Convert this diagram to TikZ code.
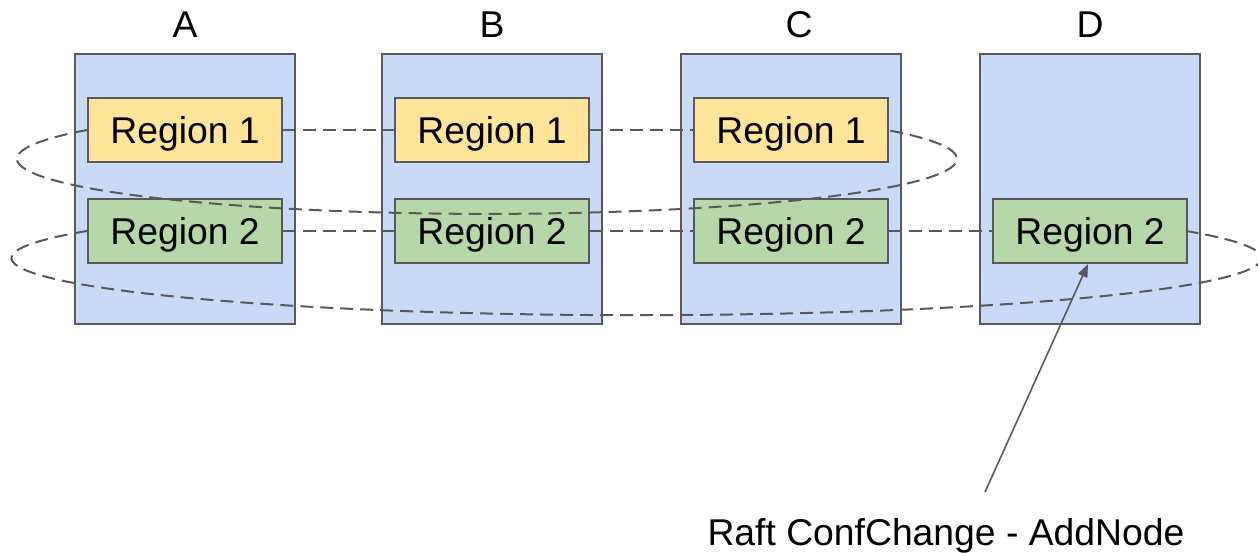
\documentclass[tikz,border=0pt]{standalone}
\usepackage{fontspec}
\setmainfont{Liberation Sans}
\usetikzlibrary{arrows.meta}
\definecolor{serverfill}{HTML}{C9DAF8}
\definecolor{regionone}{HTML}{FFE599}
\definecolor{regiontwo}{HTML}{B6D7A8}
\definecolor{edgegray}{HTML}{595959}
\begin{document}
\begin{tikzpicture}[x=1pt,y=-1pt,
  server/.style={draw=edgegray,line width=2pt,fill=serverfill,
    minimum width=220pt,minimum height=270pt,inner sep=0pt},
  rone/.style={draw=edgegray,line width=2pt,fill=regionone,
    minimum width=194pt,minimum height=64pt,inner sep=0pt,font=\bigtext,
    text height=26.5pt,text depth=0pt},
  rtwo/.style={rone,fill=regiontwo},
  title/.style={anchor=base,inner sep=0pt,font=\bigtext},
  peer/.style={draw=edgegray,line width=2pt,dash pattern=on 13pt off 7pt},
  pointer/.style={draw=edgegray,line width=1.6pt,
    -{Triangle[length=13pt,width=10pt]}}]
\newcommand{\bigtext}{\fontsize{37.3}{44}\selectfont}
\useasboundingbox (0,0) rectangle (1258,553);
\clip (0,0) rectangle (1258,553);

% stores
\node[server] (A) at (185,189) {};
\node[server] (B) at (492,189) {};
\node[server] (C) at (791,189) {};
\node[server] (D) at (1090,189) {};

\node[title] (la) at (185,38) {A};
\node[title] (lb) at (492,38) {B};
\node[title] (lc) at (799,38) {C};
\node[title] (ld) at (1090,38) {D};

% region replicas
\node[rone] (A1) at (185,130) {Region 1};
\node[rone] (B1) at (492,130) {Region 1};
\node[rone] (C1) at (791,130) {Region 1};
\node[rtwo] (A2) at (185,231) {Region 2};
\node[rtwo] (B2) at (492,231) {Region 2};
\node[rtwo] (C2) at (791,231) {Region 2};
\node[rtwo] (D2) at (1090,231) {Region 2};

% raft group of region 1
\draw[peer] (A1.east) -- (B1.west);
\draw[peer] (B1.east) -- (C1.west);
\draw[peer] (A1.west) arc[start angle=-148.33,end angle=-391.67,
  x radius=470,y radius=55];

% raft group of region 2
\draw[peer] (A2.east) -- (B2.west);
\draw[peer] (B2.east) -- (C2.west);
\draw[peer] (C2.east) -- (D2.west);
\draw[peer] (A2.west) arc[start angle=-151.55,end angle=-388.45,
  x radius=625,y radius=57];

% new peer added on D
\coordinate (src) at (985,492);
\draw[pointer] (src) -- ([xshift=-2pt]D2.south);
\node[title] (note) at (946,545) {Raft ConfChange - AddNode};
\end{tikzpicture}
\end{document}
